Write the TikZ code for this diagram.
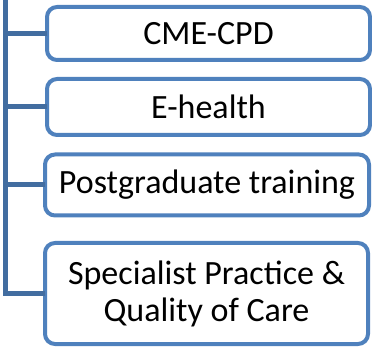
\documentclass[tikz,border=0pt]{standalone}
\usepackage{fontspec}
\setmainfont{Carlito}
\definecolor{boxblue}{HTML}{4F81BD}
\definecolor{linkblue}{HTML}{426DA0}
\begin{document}
\begin{tikzpicture}[x=1pt,y=-1pt,
  item/.style={draw=boxblue,line width=4pt,rounded corners=10pt,fill=white,
    inner sep=0pt,outer sep=0pt,align=center,
    font=\fontsize{34}{37}\selectfont},
  link/.style={draw=linkblue,line width=5pt}]
\useasboundingbox (0,0) rectangle (372,347);
\node[item,minimum width=323pt,minimum height=53pt] (b1) at (208.5,33.5) {CME-CPD};
\node[item,minimum width=323pt,minimum height=56pt] (b2) at (208.5,107) {E-health};
\node[item,minimum width=324pt,minimum height=61pt] (b3) at (207,185) {Postgraduate training};
\node[item,minimum width=323pt,minimum height=101pt] (b4) at (206.5,293.5) {Specialist Practice \&\\Quality of Care};
\coordinate (top) at (5.5,0);
\draw[link] (top) |- (b4.west);
\draw[link] (top |- b1.west) -- (b1.west);
\draw[link] (top |- b2.west) -- (b2.west);
\draw[link] (top |- b3.west) -- (b3.west);
\end{tikzpicture}
\end{document}
